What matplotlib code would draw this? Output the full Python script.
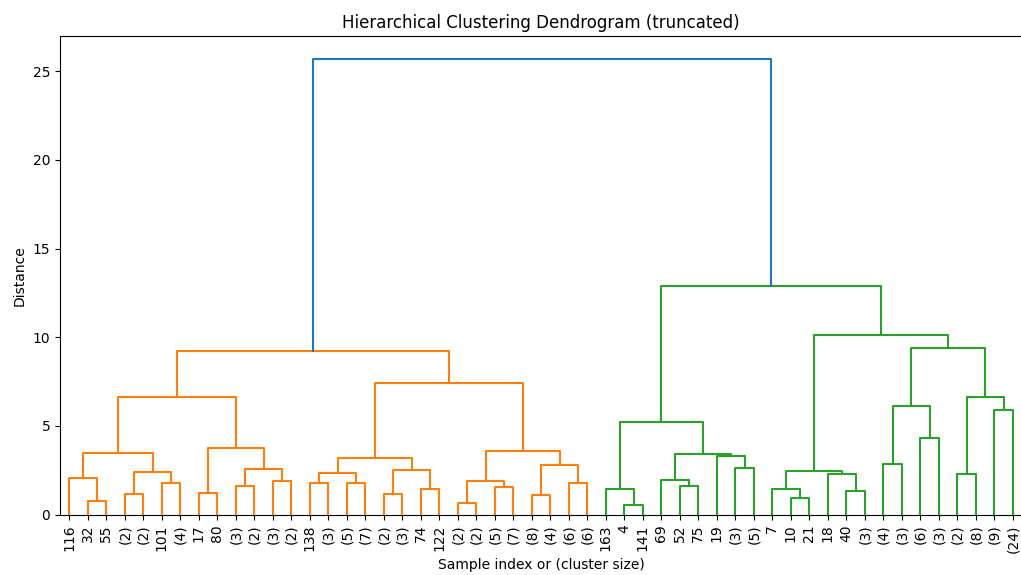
import matplotlib
matplotlib.use("Agg")
import matplotlib.pyplot as plt

# leaf labels, left to right (sample index or cluster size)
leaf_labels = ["116", "32", "55", "(2)", "(2)", "101", "(4)", "17", "80", "(3)", "(2)", "(3)", "(2)",
               "138", "(3)", "(5)", "(7)", "(2)", "(3)", "74", "122",
               "(2)", "(2)", "(5)", "(7)", "(8)", "(4)", "(6)", "(6)",
               "163", "4", "141", "69", "52", "75", "19", "(3)", "(5)", "7", "10", "21", "18", "40",
               "(3)", "(4)", "(3)", "(6)", "(3)", "(2)", "(8)", "(9)", "(24)"]

# merges: new node id = 52 + position in this list
merge_left = [1, 0, 3, 5, 54, 53, 7, 9, 11, 59, 58, 57,
              13, 15, 64, 17, 19, 67, 66, 21, 23, 71, 25, 27, 74, 73, 70, 63,
              30, 29, 33, 32, 36, 35, 83, 81, 39, 38, 42, 41, 89, 44, 46, 93, 48, 50, 96, 95, 92, 87,
              79]
merge_right = [2, 52, 4, 6, 55, 56, 8, 10, 12, 60, 61, 62,
               14, 16, 65, 18, 20, 68, 69, 22, 24, 72, 26, 28, 75, 76, 77, 78,
               31, 80, 34, 82, 37, 84, 85, 86, 40, 88, 43, 90, 91, 45, 47, 94, 49, 51, 97, 98, 99, 100,
               101]
merge_height = [0.75, 2.07, 1.16, 1.75, 2.38, 3.45, 1.22, 1.61, 1.91, 2.57, 3.77, 6.64,
                1.75, 1.80, 2.36, 1.16, 1.43, 2.53, 3.21, 0.64, 1.56, 1.91, 1.11, 1.75, 2.78, 3.60, 7.41, 9.23,
                0.56, 1.41, 1.58, 1.97, 2.61, 3.32, 3.40, 5.24, 0.92, 1.45, 1.33, 2.27, 2.46, 2.83, 4.32,
                6.14, 2.27, 5.91, 6.63, 9.38, 10.10, 12.88,
                25.70]

n_leaves = len(leaf_labels)
threshold = 0.7 * max(merge_height)

# x position and height of every node, scipy style (leaf i at 5 + 10 i)
node_x = {i: 5 + 10 * i for i in range(n_leaves)}
node_h = {i: 0.0 for i in range(n_leaves)}
for k in range(len(merge_height)):
    a, b = merge_left[k], merge_right[k]
    node_x[n_leaves + k] = (node_x[a] + node_x[b]) / 2
    node_h[n_leaves + k] = merge_height[k]

# colour: links above threshold C0, each cluster below gets next colour
link_color = {}
palette = ["C1", "C2", "C3", "C4", "C5"]
next_col = [0]


def paint(node, col):
    if node < n_leaves:
        return
    k = node - n_leaves
    h = merge_height[k]
    if col is None and h < threshold:
        col = palette[next_col[0]]
        next_col[0] += 1
    link_color[node] = col if col is not None else "C0"
    paint(merge_left[k], col)
    paint(merge_right[k], col)


root = n_leaves + len(merge_height) - 1
paint(root, None)

fig = plt.figure(figsize=(10.21, 5.75), dpi=100)
ax = fig.add_axes([60 / 1021, 60.5 / 575, 962 / 1021, 478.5 / 575])

for k in range(len(merge_height)):
    node = n_leaves + k
    a, b = merge_left[k], merge_right[k]
    h = merge_height[k]
    ax.plot([node_x[a], node_x[a], node_x[b], node_x[b]],
            [node_h[a], h, h, node_h[b]], color=link_color[node], lw=1.5)

ax.set_xlim(0, 10 * n_leaves)
ax.set_ylim(0, max(merge_height) * 1.05)
ax.set_xticks([5 + 10 * i for i in range(n_leaves)])
ax.set_xticklabels(leaf_labels, rotation=90, fontsize=10)
ax.set_title("Hierarchical Clustering Dendrogram (truncated)")
ax.set_xlabel("Sample index or (cluster size)")
ax.set_ylabel("Distance")

fig.savefig("out.png", dpi=100)
